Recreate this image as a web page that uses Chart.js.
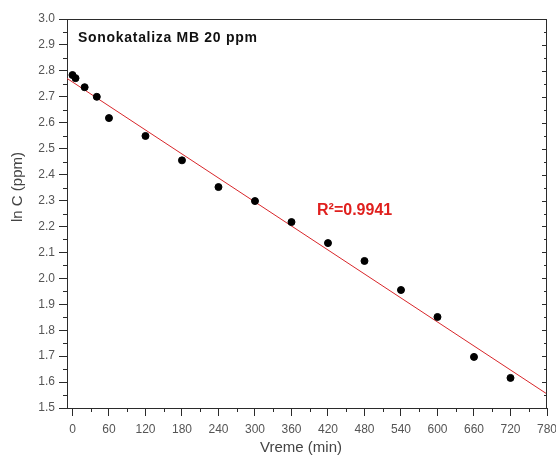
<!DOCTYPE html>
<html>
<head>
<meta charset="utf-8">
<script src="https://cdn.jsdelivr.net/npm/chart.js@4"></script>
<style>
  html, body { margin: 0; padding: 0; background: #fff; }
  #wrap { width: 556px; height: 456px; }
</style>
</head>
<body>
<div id="wrap"><canvas id="sonoChart"></canvas></div>
<script>
// measured points
const timeMin = [0, 5, 20, 40, 60, 120, 180, 240, 300, 360, 420, 480, 540, 600, 660, 720];
const lnC = [2.784, 2.772, 2.737, 2.700, 2.618, 2.549, 2.455, 2.352, 2.298, 2.217, 2.136, 2.067, 1.955, 1.851, 1.697, 1.616];

// linear fit line ends
const fitX = [-9, 780];
const fitY = [2.771, 1.554];

const xTicks = [0, 60, 120, 180, 240, 300, 360, 420, 480, 540, 600, 660, 720, 780];
const yTicks = [1.5, 1.6, 1.7, 1.8, 1.9, 2.0, 2.1, 2.2, 2.3, 2.4, 2.5, 2.6, 2.7, 2.8, 2.9, 3.0];

const chartTitle = "Sonokataliza MB 20 ppm";
const fitLabel = "R²=0.9941";
const xTitle = "Vreme (min)";
const yTitle = "ln C (ppm)";

const axisColor = "#2b2b2b";
const labelColor = "#555";
const fontFamily = "'Liberation Sans', Arial, sans-serif";

const framePlugin = {
    id: "frame",
    afterDraw(chart) {
        const ctx = chart.ctx;
        const area = chart.chartArea;
        const x = chart.scales.x;
        const y = chart.scales.y;

        ctx.save();
        ctx.strokeStyle = axisColor;
        ctx.lineWidth = 1;

        // top + right box lines
        ctx.beginPath();
        ctx.moveTo(area.left, area.top + 0.5);
        ctx.lineTo(area.right - 0.5, area.top + 0.5);
        ctx.lineTo(area.right - 0.5, area.bottom);
        ctx.stroke();

        ctx.beginPath();
        // minor x ticks
        for (let i = 0; i < xTicks.length - 1; i++) {
            const px = Math.round(x.getPixelForValue((xTicks[i] + xTicks[i + 1]) / 2)) + 0.5;
            ctx.moveTo(px, area.bottom);
            ctx.lineTo(px, area.bottom + 4);
        }
        // minor y ticks on the left, all ticks inside on the right
        for (let i = 0; i < yTicks.length; i++) {
            const py = Math.round(y.getPixelForValue(yTicks[i])) + 0.5;
            ctx.moveTo(area.right, py);
            ctx.lineTo(area.right - 5, py);
            if (i < yTicks.length - 1) {
                const pm = Math.round(y.getPixelForValue((yTicks[i] + yTicks[i + 1]) / 2)) + 0.5;
                ctx.moveTo(area.left, pm);
                ctx.lineTo(area.left - 4, pm);
                ctx.moveTo(area.right, pm);
                ctx.lineTo(area.right - 3, pm);
            }
        }
        ctx.stroke();

        ctx.textBaseline = "middle";

        // axis titles
        ctx.fillStyle = "#444";
        ctx.font = "15px " + fontFamily;
        ctx.textAlign = "center";
        ctx.fillText(xTitle, (area.left + area.right) / 2 - 6, area.bottom + 40);

        ctx.save();
        ctx.translate(area.left - 49, area.top + 168);
        ctx.rotate(-Math.PI / 2);
        ctx.fillText(yTitle, 0, 0);
        ctx.restore();

        // inner texts
        ctx.textAlign = "left";
        ctx.fillStyle = "#111";
        ctx.font = "bold 14px " + fontFamily;
        ctx.letterSpacing = "0.7px";
        ctx.fillText(chartTitle, area.left + 11, area.top + 19);
        ctx.letterSpacing = "0px";

        ctx.fillStyle = "#e0201e";
        ctx.font = "bold 16px " + fontFamily;
        ctx.fillText(fitLabel, x.getPixelForValue(402), y.getPixelForValue(2.262));
        ctx.restore();
    },
};

new Chart(document.getElementById("sonoChart").getContext("2d"), {
    type: "scatter",

    data: {
        datasets: [
            {
                type: "line",
                data: fitX.map((v, i) => ({ x: v, y: fitY[i] })),
                borderColor: "#d8262a",
                borderWidth: 1,
                pointRadius: 0,
                fill: false,
                order: 2,
            },
            {
                data: timeMin.map((v, i) => ({ x: v, y: lnC[i] })),
                backgroundColor: "#000",
                borderColor: "#000",
                pointRadius: 3.5,
                order: 1,
            },
        ],
    },

    options: {
        responsive: true,
        maintainAspectRatio: false,
        animation: false,
        layout: {
            padding: { top: 19, right: 9, left: 0, bottom: 0 },
        },

        scales: {
            x: {
                type: "linear",
                min: -9,
                max: 780,
                afterBuildTicks: (scale) => {
                    scale.ticks = xTicks.map((v) => ({ value: v }));
                },
                afterFit: (scale) => {
                    scale.height = 48;
                    scale.paddingLeft = 0;
                    scale.paddingRight = 0;
                },
                grid: {
                    drawOnChartArea: false,
                    tickLength: 8,
                    color: axisColor,
                },
                border: { color: axisColor },
                ticks: {
                    color: labelColor,
                    padding: 6,
                    maxRotation: 0,
                    font: { family: fontFamily, size: 12 },
                },
            },

            y: {
                min: 1.5,
                max: 3.0,
                afterBuildTicks: (scale) => {
                    scale.ticks = yTicks.map((v) => ({ value: v }));
                },
                afterFit: (scale) => {
                    scale.width = 67;
                    scale.paddingTop = 0;
                    scale.paddingBottom = 0;
                },
                grid: {
                    drawOnChartArea: false,
                    tickLength: 8,
                    color: axisColor,
                },
                border: { color: axisColor },
                ticks: {
                    color: labelColor,
                    padding: 4,
                    callback: (v) => Number(v).toFixed(1),
                    font: { family: fontFamily, size: 12 },
                },
            },
        },

        plugins: {
            legend: { display: false },
            tooltip: { enabled: false },
        },
    },

    plugins: [framePlugin],
});
</script>
</body>
</html>
